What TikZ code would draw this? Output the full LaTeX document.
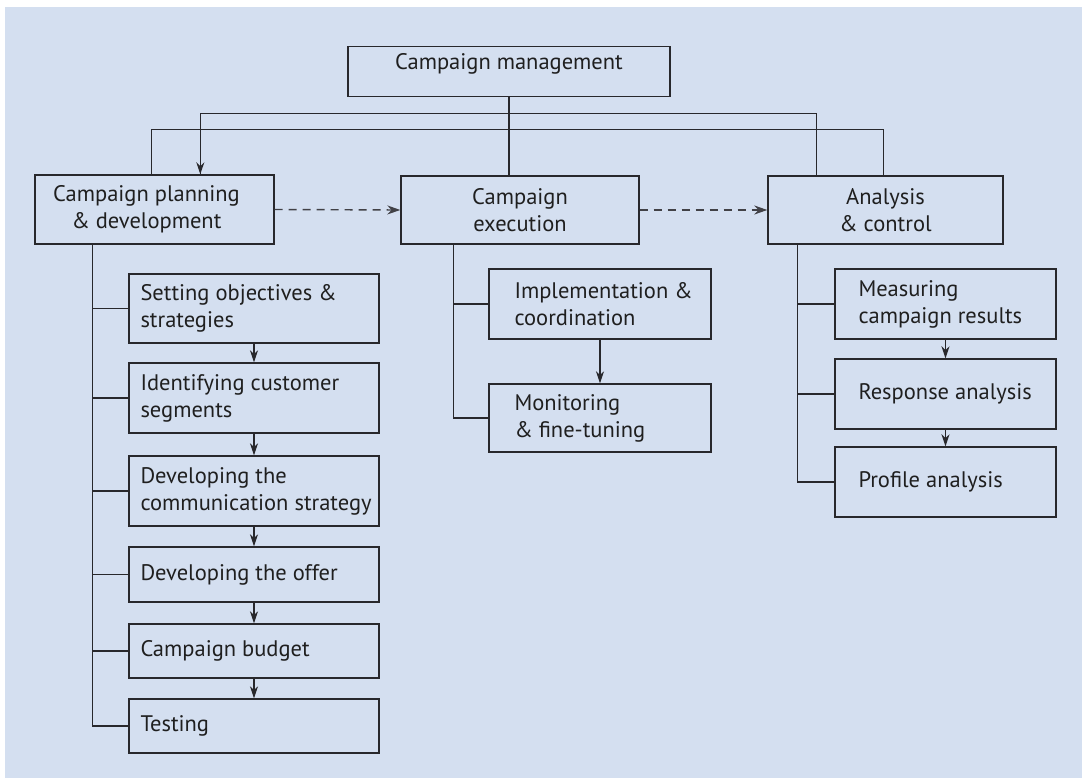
\documentclass[tikz,border=0pt]{standalone}
\usepackage{fontspec}
\setmainfont{PT Sans}
\usetikzlibrary{arrows.meta}
\definecolor{bgc}{RGB}{212,223,240}
\definecolor{linec}{RGB}{40,40,44}
\definecolor{dashc}{RGB}{65,65,70}
\tikzset{
  box/.style={draw=linec, line width=1.4pt, rectangle, inner sep=0pt, align=center,
    font=\fontsize{22.5}{27}\selectfont, text=black!88},
  txt/.style={anchor=west, inner sep=0pt, align=left,
    font=\fontsize{22.5}{27}\selectfont, text=black!88},
  ctxt/.style={inner sep=0pt, align=center,
    font=\fontsize{22.5}{27}\selectfont, text=black!88},
  conn/.style={draw=linec, line width=1.3pt},
  arr/.style={conn, -{Stealth[length=12pt,width=8pt]}},
  darr/.style={draw=dashc, line width=1.4pt, dash pattern=on 8pt off 6pt, -{Stealth[length=13pt,width=9pt]}}
}
\begin{document}
\begin{tikzpicture}[x=1pt,y=-1pt]
\useasboundingbox (0,0) rectangle (1082,778);
\fill[bgc] (5,7) rectangle (1082,778);

% top level
\node[box, minimum width=322pt, minimum height=50pt] (top) at (509,71.5) {};
\node[ctxt, anchor=base] (topt) at (509,70) {Campaign management};
\node[box, minimum width=239pt, minimum height=69pt] (plan) at (154.5,209.5) {};
\node[ctxt] (plant) at ([xshift=-8pt]plan.center) {Campaign planning\\\& development};
\node[box, minimum width=238pt, minimum height=68pt] (exe) at (520,210) {Campaign\\execution};
\node[box, minimum width=235pt, minimum height=68pt] (ana) at (885.5,210) {Analysis\\\& control};

% planning column
\node[box, minimum width=250pt, minimum height=69pt] (s1) at (254,308.5) {};
\node[box, minimum width=250pt, minimum height=70pt] (s2) at (254,398) {};
\node[box, minimum width=250pt, minimum height=70pt] (s3) at (254,491) {};
\node[box, minimum width=250pt, minimum height=55pt] (s4) at (254,574.5) {};
\node[box, minimum width=250pt, minimum height=54pt] (s5) at (254,651) {};
\node[box, minimum width=250pt, minimum height=54pt] (s6) at (254,726) {};
\node[txt] (s1t) at ([xshift=12pt]s1.west) {Setting objectives \&\\strategies};
\node[txt] (s2t) at ([xshift=12pt]s2.west) {Identifying customer\\segments};
\node[txt] (s3t) at ([xshift=12pt]s3.west) {Developing the\\communication strategy};
\node[txt] (s4t) at ([xshift=12pt]s4.west) {Developing the offer};
\node[txt] (s5t) at ([xshift=12pt]s5.west) {Campaign budget};
\node[txt] (s6t) at ([xshift=12pt]s6.west) {Testing};

% execution column
\node[box, minimum width=222pt, minimum height=70pt] (e1) at (600,304) {};
\node[box, minimum width=222pt, minimum height=68pt] (e2) at (600,418) {};
\node[txt] (e1t) at ([xshift=26pt]e1.west) {Implementation \&\\coordination};
\node[txt] (e2t) at ([xshift=26pt]e2.west) {Monitoring\\\& fine-tuning};

% analysis column
\node[box, minimum width=221pt, minimum height=70pt] (a1) at (945.5,304) {};
\node[box, minimum width=221pt, minimum height=70pt] (a2) at (945.5,394) {};
\node[box, minimum width=221pt, minimum height=70pt] (a3) at (945.5,482) {};
\node[txt] (a1t) at ([xshift=24pt]a1.west) {Measuring\\campaign results};
\node[txt] (a2t) at ([xshift=24pt]a2.west) {Response analysis};
\node[txt] (a3t) at ([xshift=24pt]a3.west) {Profile analysis};

% hierarchy connectors
\coordinate (pl) at ([xshift=117pt]plan.north west);
\coordinate (ar) at ([xshift=-120pt]ana.north east);
\coordinate (al) at ([xshift=49pt]ana.north west);
\coordinate (pa) at ([xshift=166pt]plan.north west);
\draw[conn] (top.south) -- (top.south |- exe.north);
\draw[conn] (pl) -- ++(0,-45) -| (ar);
% feedback loop
\draw[conn] (al) -- ++(0,-62) -| (pa);
\draw[arr] ([yshift=-2pt]pa |- top.south) ++(0,20) -- (pa);

% dashed flow
\draw[darr] (plan.east) -- (exe.west);
\draw[darr] (exe.east) -- (ana.west);

% planning branches
\coordinate (pv) at ([xshift=58pt]plan.south west);
\foreach \b in {s1,s2,s3,s4,s5,s6} \draw[conn] (pv) |- (\b.west);
\draw[arr] (s1.south) -- (s2.north);
\draw[arr] (s2.south) -- (s3.north);
\draw[arr] (s3.south) -- (s4.north);
\draw[arr] (s4.south) -- (s5.north);
\draw[arr] (s5.south) -- (s6.north);

% execution branches
\coordinate (ev) at ([xshift=53pt]exe.south west);
\foreach \b in {e1,e2} \draw[conn] (ev) |- (\b.west);
\draw[arr] (e1.south) -- (e2.north);

% analysis branches
\coordinate (av) at ([xshift=30pt]ana.south west);
\foreach \b in {a1,a2,a3} \draw[conn] (av) |- (\b.west);
\draw[arr] (a1.south) -- (a2.north);
\draw[arr] (a2.south) -- (a3.north);
\end{tikzpicture}
\end{document}
